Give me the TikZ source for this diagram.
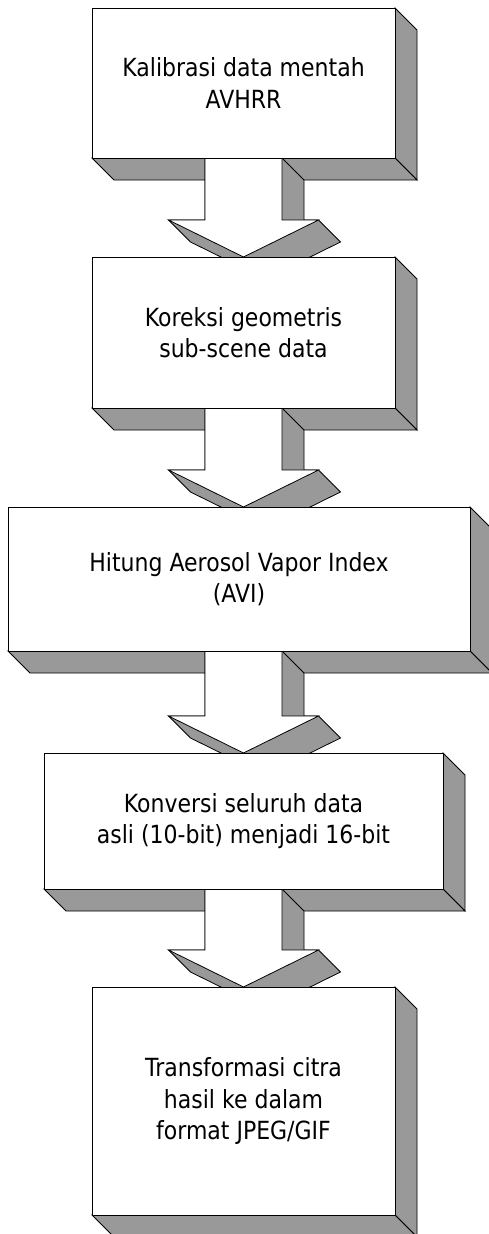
\documentclass[tikz,border=0pt]{standalone}
\usepackage{fontspec}
\setmainfont{DejaVu Sans}[FakeStretch=0.88]
\usetikzlibrary{positioning,calc}
\pgfdeclarelayer{back}
\pgfdeclarelayer{mid}
\pgfsetlayers{back,mid,main}
\tikzset{
  StepBox/.style = {rectangle, draw=black, fill=white, line width=0.8pt, align=center,
                    inner sep=0pt, outer sep=0pt, font=\fontsize{25}{31.5}\selectfont},
  SideFace/.style = {draw=black, fill=black!40, line width=0.8pt},
  FrontArrow/.style = {draw=black, fill=white, line width=0.8pt} }
\newcommand{\BoxDepth}[1]{%
  \begin{pgfonlayer}{back}
    \draw[SideFace] (#1.north east) -- ++(22pt,-22pt) -- ([shift={(22pt,-22pt)}]#1.south east)
      -- (#1.south east) -- cycle;
    \draw[SideFace] (#1.south west) -- ++(22pt,-22pt) -- ([shift={(22pt,-22pt)}]#1.south east)
      -- (#1.south east) -- cycle;
  \end{pgfonlayer}}
\newcommand{\FlowArrow}[2]{%
  \begin{pgfonlayer}{mid}
    \draw[SideFace] let \p1 = (#1.south), \p2 = (#2.north), \p3 = (axis) in
      (\x3-38.5pt,\y1) -- (\x3+38.5pt,\y1) -- (\x3+60.5pt,\y1-22pt) -- (\x3+60.5pt,\y2+37pt)
      -- (\x3+75pt,\y2+37pt) -- (\x3+97pt,\y2+15pt) -- (\x3+22pt,\y2-22pt)
      -- (\x3-53pt,\y2+15pt) -- (\x3-75pt,\y2+37pt) -- (\x3-38.5pt,\y2+37pt) -- cycle;
    \draw[FrontArrow] let \p1 = (#1.south), \p2 = (#2.north), \p3 = (axis) in
      (\x3-38.5pt,\y1) -- (\x3-38.5pt,\y2+37pt) -- (\x3-75pt,\y2+37pt) -- (\x3,\y2)
      -- (\x3+75pt,\y2+37pt) -- (\x3+38.5pt,\y2+37pt) -- (\x3+38.5pt,\y1) -- cycle;
  \end{pgfonlayer}}

\begin{document}
\begin{tikzpicture}[x=1pt, y=-1pt, node distance=99pt]
  \useasboundingbox (0,0) rectangle (488,1234);
  \coordinate (axis) at (243.5,0);
  \node[StepBox, minimum width=303pt, minimum height=150pt] (kalib) at (243.5,83)
    {Kalibrasi data mentah\\AVHRR};
  \node[StepBox, minimum width=303pt, minimum height=151pt, below=of kalib] (koreksi)
    {Koreksi geometris\\sub-scene data};
  \node[StepBox, minimum width=462pt, minimum height=144pt, below=of koreksi, xshift=-4.5pt] (avi)
    {Hitung Aerosol Vapor Index\\(AVI)};
  \node[StepBox, minimum width=399pt, minimum height=136pt, below=102pt of avi, xshift=4.5pt] (konversi)
    {Konversi seluruh data\\asli (10-bit) menjadi 16-bit};
  \node[StepBox, minimum width=303pt, minimum height=228pt, below=98pt of konversi] (transformasi)
    {Transformasi citra\\hasil ke dalam\\format JPEG/GIF};
  \foreach \b in {kalib,koreksi,avi,konversi,transformasi} {\BoxDepth{\b}}
  \FlowArrow{kalib}{koreksi}
  \FlowArrow{koreksi}{avi}
  \FlowArrow{avi}{konversi}
  \FlowArrow{konversi}{transformasi}
\end{tikzpicture}
\end{document}
